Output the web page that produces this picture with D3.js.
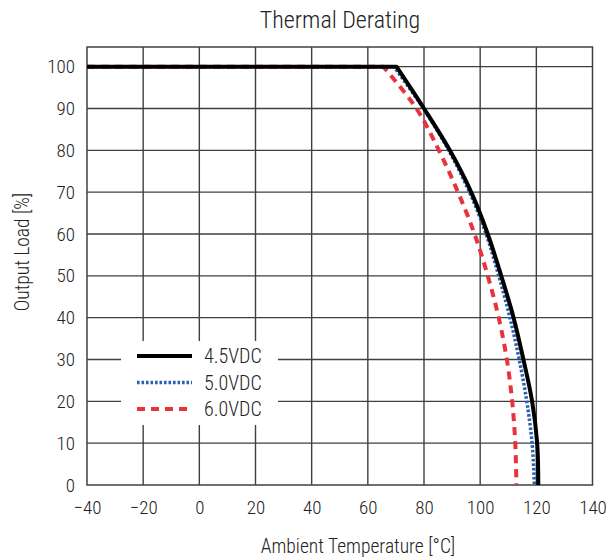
<!DOCTYPE html>
<html>
<head>
<meta charset="utf-8">
<script src="https://cdn.jsdelivr.net/npm/d3@7"></script>
<style>
  html, body { margin: 0; padding: 0; background: #fff; }
  text { font-family: "Liberation Sans Narrow", "Roboto Condensed", "DejaVu Sans Condensed", sans-serif; fill: #222; font-weight: 300; }
</style>
</head>
<body>
<svg id="chart" width="610" height="559"></svg>
<script>
// ---- data ----
const xTicks = [-40, -20, 0, 20, 40, 60, 80, 100, 120, 140];
const yTicks = [0, 10, 20, 30, 40, 50, 60, 70, 80, 90, 100];
const seriesNames = ["4.5VDC", "5.0VDC", "6.0VDC"];
// temperature [°C] and load [%]
const temp45 = [-40, 70.2, 80, 89.2, 96.8, 102.7, 107.5, 111.9, 115.4, 118.5, 120.3, 120.7];
const load45 = [100, 100, 90, 80, 70, 60, 50, 40, 30, 20, 10, 0];
const temp50 = [-40, 69.3, 79.8, 88.8, 96.2, 102.1, 106.6, 110.6, 113.9, 116.6, 118.5, 119.3];
const load50 = [100, 100, 90, 80, 70, 60, 50, 40, 30, 20, 10, 0];
const temp60 = [-40, 65.5, 77.3, 85.3, 92.1, 98, 102.7, 106.6, 109.5, 111.4, 112.5, 112.9];
const load60 = [100, 100, 90, 80, 70, 60, 50, 40, 30, 20, 10, 0];

const svg = d3.select("#chart");
const x = d3.scaleLinear().domain([-40, 140]).range([87, 592.5]);
const y = d3.scaleLinear().domain([0, 104.7]).range([485, 47]);
const gridColor = "#3b4141";

// title
svg.append("text").attr("x", 340).attr("y", 28).attr("text-anchor", "middle")
  .style("font-size", "24px").text("Thermal Derating");

// grid
const g = svg.append("g");
g.selectAll(".vg").data(xTicks.slice(1, -1)).join("line")
  .attr("x1", d => x(d)).attr("x2", d => x(d)).attr("y1", y(104.7)).attr("y2", y(0))
  .attr("stroke", gridColor).attr("stroke-width", 1.4);
g.selectAll(".hg").data(yTicks.slice(1)).join("line")
  .attr("x1", x(-40)).attr("x2", x(140)).attr("y1", d => y(d)).attr("y2", d => y(d))
  .attr("stroke", gridColor).attr("stroke-width", 1.4);
g.append("rect").attr("x", x(-40)).attr("y", y(104.7))
  .attr("width", x(140) - x(-40)).attr("height", y(0) - y(104.7))
  .attr("fill", "none").attr("stroke", gridColor).attr("stroke-width", 1.5);

// axes tick labels via d3 axes
const xAxis = svg.append("g").attr("transform", `translate(0,${y(0)})`)
  .call(d3.axisBottom(x).tickValues(xTicks).tickSize(0).tickPadding(16).tickFormat(d3.format("d")));
const yAxis = svg.append("g").attr("transform", `translate(${x(-40)},0)`)
  .call(d3.axisLeft(y).tickValues(yTicks).tickSize(0).tickPadding(12).tickFormat(d3.format("d")));
[xAxis, yAxis].forEach(a => {
  a.select(".domain").remove();
  a.selectAll("text").style("font-size", "19px").style("font-family", null).attr("fill", "#222");
});

// axis titles
svg.append("text").attr("x", 358).attr("y", 553).attr("text-anchor", "middle")
  .style("font-size", "19.5px").text("Ambient Temperature [°C]");
svg.append("text").attr("transform", "translate(29,252) rotate(-90)").attr("text-anchor", "middle")
  .style("font-size", "19.5px").text("Output Load [%]");

// lines
const flatLine = d3.line().x(d => x(d[0])).y(d => y(d[1]));
const curveLine = d3.line().x(d => x(d[0])).y(d => y(d[1])).curve(d3.curveCatmullRom.alpha(0.5));
function pathFor(t, l) {
  const pts = t.map((v, i) => [v, l[i]]);
  const flat = flatLine(pts.slice(0, 2));
  const cur = curveLine(pts.slice(1));
  return flat + cur.replace(/^M/, "L");
}
const styles = [
  { color: "#000000", width: 4, dash: null },
  { color: "#2b62b3", width: 3.5, dash: "2.6,1.9" },
  { color: "#e8333c", width: 4, dash: "8,6" }
];
const data = [[temp60, load60], [temp50, load50], [temp45, load45]];
const styleOrder = [2, 1, 0];
data.forEach((d, i) => {
  const s = styles[styleOrder[i]];
  svg.append("path").attr("d", pathFor(d[0], d[1]))
    .attr("fill", "none").attr("stroke", s.color).attr("stroke-width", s.width)
    .attr("stroke-dasharray", s.dash).attr("stroke-linejoin", "round");
});

// legend
svg.append("rect").attr("x", 121).attr("y", 341).attr("width", 157).attr("height", 84).attr("fill", "#fff");
const legY = [356, 382.5, 409];
seriesNames.forEach((n, i) => {
  const s = styles[i];
  svg.append("line").attr("x1", 137).attr("x2", 192).attr("y1", legY[i]).attr("y2", legY[i])
    .attr("stroke", s.color).attr("stroke-width", s.width).attr("stroke-dasharray", s.dash);
  svg.append("text").attr("x", 204).attr("y", legY[i] + 7).style("font-size", "20px").text(n);
});
</script>
</body>
</html>
